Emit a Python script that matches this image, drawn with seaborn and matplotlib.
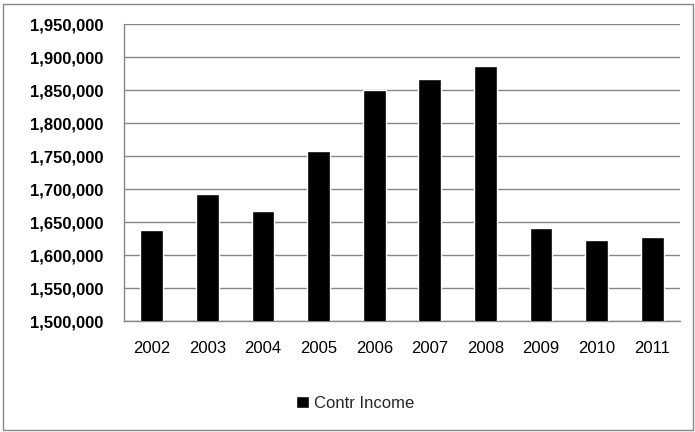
import matplotlib
matplotlib.use("Agg")
import matplotlib.pyplot as plt
import seaborn as sns
import pandas as pd
from matplotlib.patches import Rectangle
from matplotlib.ticker import FuncFormatter

years = ["2002", "2003", "2004", "2005", "2006", "2007", "2008", "2009", "2010", "2011"]
contr_income = [1638000, 1693000, 1667000, 1758000, 1850500, 1867000, 1887000, 1641000, 1623000, 1628000]
series_name = "Contr Income"

sns.set_theme(style="white")
plt.rcParams['font.family'] = ['Liberation Sans', 'DejaVu Sans']

df = pd.DataFrame({"Year": years, "Value": contr_income})

fig = plt.figure(figsize=(6.95, 4.32), dpi=100)
ax = fig.add_axes([124/695, 1 - 321.3/432, (680-124)/695, (321.3-24.3)/432])

sns.barplot(data=df, x="Year", y="Value", color="black", width=0.41,
            saturation=1, label=series_name, ax=ax, zorder=3)

ax.set_ylim(1500000, 1950000)
ax.set_yticks(range(1500000, 1950001, 50000))
ax.yaxis.set_major_formatter(FuncFormatter(lambda v, p: f"{int(v):,}"))
ax.set_xlim(-0.5, len(years) - 0.5)
ax.grid(axis="y", color="#868686", linewidth=1, zorder=0)
ax.set_axisbelow(True)
ax.set_xlabel("")
ax.set_ylabel("")
for s in ["top", "right"]:
    ax.spines[s].set_visible(False)
ax.spines["left"].set_color("#868686")
ax.spines["bottom"].set_color("#868686")
ax.spines["left"].set_linewidth(1)
ax.spines["bottom"].set_linewidth(1)
ax.tick_params(axis="y", length=0, pad=15, labelsize=12, labelcolor="black")
ax.tick_params(axis="x", length=0, pad=14, labelsize=12, labelcolor="black")
for lbl in ax.get_yticklabels():
    lbl.set_fontweight("bold")

if ax.get_legend() is not None:
    ax.get_legend().remove()
h, l = ax.get_legend_handles_labels()
fig.legend(h, l, loc="center", bbox_to_anchor=(355/695, 1 - 403/432), frameon=False,
           handlelength=0.75, handleheight=0.75, handletextpad=0.3, fontsize=12)

fig.patches.append(Rectangle((3/695, 2/432), 690/695, 426/432, transform=fig.transFigure,
                             fill=False, edgecolor="#868686", linewidth=1))

fig.savefig("out.png", dpi=100)
